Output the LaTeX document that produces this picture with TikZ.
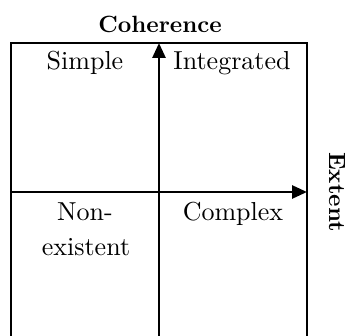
\documentclass[tikz,border=0pt]{standalone}
\usepackage{fontspec}
\setmainfont{lmroman10-regular.otf}[BoldFont=lmroman10-bold.otf]
\usetikzlibrary{arrows.meta}
\begin{document}
\begin{tikzpicture}[x=1pt,y=-1pt,
  frame/.style={line width=2.7pt},
  axis/.style={line width=2.7pt,-{Triangle[length=15pt,width=13pt]}},
  quad/.style={font=\fontsize{26}{33}\selectfont,anchor=base,inner sep=0pt},
  axlabel/.style={font=\fontsize{23.5}{28}\selectfont\bfseries,anchor=base,inner sep=0pt}]
  \useasboundingbox (0,0) rectangle (350,336);
  \clip (0,0) rectangle (350,336);

  % corners of the open frame and axis end points
  \coordinate (tl) at (11,43);
  \coordinate (tr) at (307,43);
  \coordinate (bl) at (11,340);
  \coordinate (br) at (307,340);
  \coordinate (vbot) at (159,340);
  \coordinate (vtop) at (159,43);
  \coordinate (hleft) at (11,192);
  \coordinate (hright) at (307,192);

  % frame: left, top and right sides
  \draw[frame] (bl) -- (tl) -- (tr) -- (br);

  % axes
  \draw[axis] (vbot) -- (vtop);
  \draw[axis] (hleft) -- (hright);

  % axis labels
  \node[axlabel] (coh) at (160,33) {Coherence};
  \node[axlabel,rotate=-90] (ext) at (329,192) {Extent};

  % quadrant labels
  \node[quad] (simple) at (85,70) {Simple};
  \node[quad] (integ) at (232,70) {Integrated};
  \node[quad] (non) at (85,221) {Non-};
  \node[quad] (exist) at (86,255) {existent};
  \node[quad] (complex) at (233,221) {Complex};
\end{tikzpicture}
\end{document}
